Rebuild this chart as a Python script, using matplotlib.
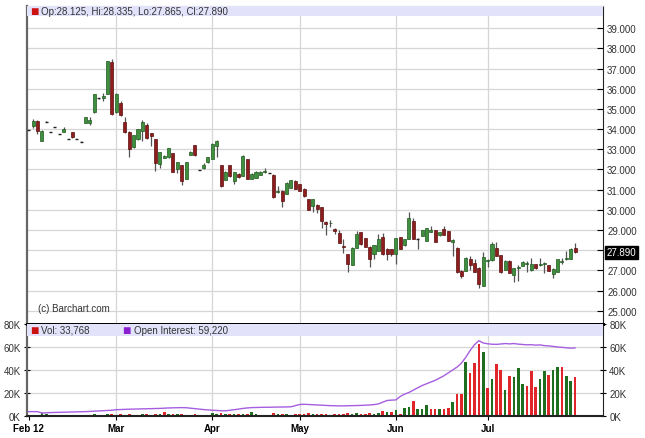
import matplotlib
matplotlib.use("Agg")
import matplotlib.pyplot as plt
import matplotlib.transforms as mtransforms
from matplotlib.patches import Rectangle
import pandas as pd

plt.rcParams['font.family'] = ['Liberation Sans', 'DejaVu Sans']

# trading days, Feb 1 2012 .. Jul 31 2012 (US exchange holidays removed)
holidays = ["2012-02-20", "2012-04-06", "2012-05-28", "2012-07-04"]
dates = [d for d in pd.bdate_range("2012-02-01", "2012-07-31") if d.strftime("%Y-%m-%d") not in holidays]

opens = [33.95, 34.14, 34.42, 33.43, 34.37, 33.87, 34.09, 33.76, 33.86, 33.51,
         33.84, 33.50, 33.38, 34.30, 34.30, 34.84, 35.53, 35.55, 35.74, 37.31,
         34.84, 35.28, 34.37, 33.87, 33.10, 33.50, 33.92, 34.19, 33.80, 33.50,
         32.27, 32.58, 32.60, 32.80, 32.03, 32.20, 31.53, 32.72, 33.20, 31.98,
         32.06, 32.36, 32.52, 33.15, 32.22, 31.50, 32.22, 31.44, 31.78, 31.69,
         32.52, 31.53, 31.60, 31.72, 31.85, 31.83, 31.73, 30.90, 30.94, 30.78,
         31.10, 31.44, 31.28, 31.05, 30.53, 30.17, 30.24, 30.12, 29.38, 29.33,
         29.05, 28.85, 28.22, 27.80, 27.27, 28.13, 28.88, 28.60, 28.18, 27.82,
         27.97, 28.63, 28.08, 28.05, 27.80, 28.63, 28.25, 28.55, 29.46, 28.57,
         28.70, 28.47, 28.92, 29.00, 28.73, 29.03, 28.95, 28.40, 28.13, 26.98,
         26.98, 27.58, 27.35, 27.14, 26.24, 27.48, 27.50, 28.13, 27.75, 27.04,
         27.48, 26.77, 27.13, 27.23, 27.33, 27.00, 27.30, 27.28, 27.30, 27.25,
         26.80, 26.92, 27.43, 27.58, 27.58, 28.125]
highs = [33.97, 34.50, 34.45, 33.95, 34.38, 33.88, 34.10, 33.77, 34.08, 33.52,
         33.86, 33.51, 33.39, 34.60, 34.60, 35.76, 35.55, 35.80, 37.37, 37.48,
         35.78, 35.40, 34.60, 33.90, 33.72, 34.02, 34.45, 34.30, 33.82, 33.52,
         32.87, 32.70, 33.07, 32.82, 32.37, 32.22, 32.39, 32.90, 33.22, 31.99,
         32.30, 32.64, 33.30, 33.45, 32.24, 31.91, 32.24, 31.88, 31.80, 32.70,
         32.54, 31.80, 31.90, 31.90, 32.05, 31.84, 31.75, 31.20, 30.96, 31.37,
         31.50, 31.46, 31.30, 31.07, 30.55, 30.55, 30.30, 30.14, 29.45, 29.50,
         29.10, 29.00, 28.54, 27.82, 28.15, 28.95, 28.90, 28.62, 28.20, 28.27,
         28.80, 28.83, 28.10, 28.07, 28.60, 28.65, 28.57, 29.90, 29.60, 28.60,
         29.00, 29.10, 29.20, 29.02, 28.90, 29.20, 28.97, 28.55, 28.15, 27.00,
         27.65, 27.70, 27.55, 27.16, 27.90, 27.55, 28.41, 28.40, 27.77, 27.50,
         27.50, 27.12, 27.25, 27.44, 27.45, 27.60, 27.32, 27.60, 27.40, 27.27,
         27.10, 27.57, 27.60, 27.95, 28.10, 28.335]
lows = [33.93, 34.05, 33.76, 33.40, 34.36, 33.86, 34.08, 33.75, 33.84, 33.50,
        33.58, 33.49, 33.37, 34.28, 34.20, 34.82, 35.51, 35.40, 35.72, 34.70,
        34.82, 34.66, 33.82, 32.60, 33.08, 33.48, 33.43, 33.53, 33.15, 31.94,
        32.05, 32.56, 32.58, 31.87, 31.80, 31.23, 31.51, 32.70, 32.68, 31.97,
        32.00, 32.34, 32.50, 32.60, 31.15, 31.48, 31.64, 31.30, 31.59, 31.67,
        31.51, 31.51, 31.58, 31.70, 31.80, 31.82, 30.60, 30.84, 30.15, 30.76,
        31.08, 31.03, 30.93, 30.64, 29.98, 29.90, 29.85, 29.10, 28.75, 29.15,
        28.80, 28.35, 27.88, 26.90, 27.25, 28.11, 28.28, 28.16, 27.15, 27.55,
        27.95, 27.78, 27.50, 27.70, 27.30, 28.04, 28.23, 28.53, 28.53, 28.05,
        28.68, 28.45, 28.90, 28.38, 28.71, 28.73, 28.45, 27.73, 26.88, 26.60,
        26.96, 27.00, 26.91, 26.10, 26.22, 27.15, 27.48, 27.71, 26.88, 27.02,
        26.85, 26.44, 26.45, 27.21, 26.90, 26.98, 27.08, 27.20, 26.85, 26.95,
        26.60, 26.90, 27.30, 27.50, 27.56, 27.865]
closes = [33.95, 34.42, 33.92, 33.92, 34.37, 33.87, 34.09, 33.76, 34.00, 33.51,
          33.60, 33.50, 33.38, 34.59, 34.45, 35.74, 35.53, 35.65, 37.35, 34.75,
          35.76, 34.68, 33.84, 33.01, 33.70, 34.00, 34.34, 33.55, 33.68, 32.30,
          32.85, 32.68, 33.05, 31.89, 32.35, 31.44, 32.37, 32.88, 32.70, 31.98,
          32.20, 32.62, 33.28, 33.43, 31.17, 31.89, 31.66, 31.86, 31.61, 32.68,
          31.53, 31.78, 31.88, 31.85, 31.90, 31.83, 30.62, 30.95, 30.45, 31.35,
          31.48, 31.05, 30.95, 30.66, 30.00, 30.53, 30.04, 29.46, 29.32, 29.36,
          28.95, 28.37, 28.18, 27.30, 28.13, 28.80, 28.30, 28.18, 27.55, 28.25,
          28.55, 27.80, 27.83, 27.80, 28.58, 28.06, 28.55, 29.58, 28.55, 28.57,
          28.98, 29.08, 29.02, 28.40, 28.88, 28.75, 28.47, 28.50, 26.90, 26.70,
          27.63, 27.27, 26.93, 26.32, 27.67, 27.52, 28.32, 27.73, 26.90, 27.48,
          26.87, 27.10, 27.17, 27.42, 27.37, 27.30, 27.10, 27.32, 27.34, 26.97,
          27.08, 27.55, 27.47, 27.62, 28.08, 27.89]

# volume and open interest, thousands of contracts
volume = [0.5, 0.8, 0.6, 2.5, 1.8, 0.3, 0.4, 0.3, 0.5, 0.2,
          0.6, 0.2, 0.3, 1.2, 1.0, 1.5, 0.4, 0.8, 1.8, 2.0,
          1.2, 1.5, 0.9, 1.8, 1.2, 1.0, 1.4, 1.6, 1.3, 2.0,
          1.8, 3.2, 1.5, 1.7, 1.4, 1.6, 1.3, 1.0, 1.5, 0.5,
          0.6, 1.2, 2.2, 1.8, 2.5, 1.6, 1.9, 1.7, 1.4, 1.8,
          2.0, 3.5, 1.5, 1.2, 0.8, 0.6, 2.2, 1.4, 1.9, 1.6,
          1.3, 1.5, 1.7, 1.9, 2.6, 1.8, 1.5, 2.0, 1.6, 1.2,
          1.4, 1.7, 1.9, 2.8, 1.6, 2.3, 1.9, 2.1, 2.6, 1.8,
          2.2, 4.4, 3.5, 3.5, 5.0, 2.0, 6.7, 7.9, 13.0, 5.8,
          5.8, 9.3, 5.8, 5.8, 5.8, 5.8, 6.7, 12.2, 19.0, 19.5,
          47.0, 37.0, 46.5, 62.6, 55.3, 24.2, 32.0, 45.0, 39.9, 22.4,
          34.9, 34.0, 41.6, 27.7, 26.2, 38.7, 25.3, 32.0, 39.3, 35.8,
          39.9, 42.8, 42.8, 34.9, 30.5, 33.768]
open_interest = [3.8, 3.8, 3.8, 2.6, 2.8, 3.0, 3.1, 3.2, 3.3, 3.4,
                 3.5, 3.6, 3.7, 3.8, 4.0, 4.2, 4.4, 4.6, 4.8, 5.0,
                 5.5, 5.6, 5.8, 5.9, 6.0, 6.1, 6.2, 6.3, 6.4, 6.5,
                 6.6, 6.8, 7.0, 7.1, 7.2, 7.3, 7.2, 6.8, 6.4, 6.0,
                 5.6, 5.3, 5.0, 4.8, 4.6, 4.5, 5.0, 5.5, 6.0, 6.6,
                 7.0, 7.3, 7.4, 7.5, 7.6, 7.6, 7.7, 7.8, 7.8, 7.9,
                 8.0, 9.0, 10.0, 10.2, 10.0, 9.8, 9.6, 9.4, 9.2, 9.0,
                 8.9, 8.8, 8.8, 8.9, 9.0, 9.1, 9.2, 9.4, 9.6, 9.9,
                 10.5, 12.0, 13.5, 13.8, 14.0, 17.0, 19.0, 20.5, 22.5, 24.5,
                 26.5, 28.0, 29.5, 31.0, 33.0, 35.0, 37.5, 40.0, 42.5, 46.0,
                 51.0, 57.0, 62.0, 65.5, 63.5, 62.8, 62.4, 62.3, 62.6, 63.0,
                 62.7, 63.0, 62.5, 62.2, 61.9, 62.0, 61.6, 61.8, 61.2, 61.0,
                 60.5, 60.0, 59.7, 59.3, 59.0, 59.22]

price_ticks = [25, 26, 27, 28, 29, 30, 31, 32, 33, 34, 35, 36, 37, 38, 39]
vol_ticks = [0, 20, 40, 60, 80]

W, H = 645, 439
fig = plt.figure(figsize=(W / 100, H / 100), dpi=100)
fig.patch.set_facecolor("white")

ax = fig.add_axes([27 / W, (H - 325) / H, 576 / W, 318 / H])
axv = fig.add_axes([27 / W, (H - 417) / H, 576 / W, 92 / H], sharex=ax)

n = len(closes)
idx = list(range(n))

# month boundaries
month_pos, month_lab = [], []
for i, d in enumerate(dates):
    if i == 0 or d.month != dates[i - 1].month:
        month_pos.append(i)
        month_lab.append(d.strftime("%b %y") if i == 0 else d.strftime("%b"))

grid_c = "#d6d6d6"
for a in (ax, axv):
    for p in month_pos[1:]:
        a.axvline(p, color=grid_c, lw=0.9, zorder=0)

for t in price_ticks:
    ax.axhline(t, color=grid_c, lw=0.9, zorder=0)
for t in vol_ticks[1:-1]:
    axv.axhline(t, color=grid_c, lw=0.9, zorder=0)

# candles
for i in idx:
    o, h, l, c = opens[i], highs[i], lows[i], closes[i]
    up = c > o
    fc = "#3f8f3f" if up else "#8e1d1d"
    ec = "#1f5a1f" if up else "#5c1010"
    ax.vlines(i, l, h, color="#555555", lw=0.9, zorder=2)
    body = abs(c - o)
    if body < 0.03:
        ax.hlines(o, i - 0.35, i + 0.35, color="#222222", lw=1.0, zorder=3)
    else:
        ax.bar(i, body, bottom=min(o, c), width=0.7, color=fc, edgecolor=ec, lw=0.5, zorder=3)

ax.set_xlim(-0.4, 131.4)
ax.set_ylim(24.34, 40.1)

# volume bars, coloured by close versus previous close
for i in idx:
    prev = closes[i - 1] if i > 0 else opens[0]
    col = "#1f6e1f" if closes[i] >= prev else "#e0262b"
    axv.bar(i, volume[i], width=0.6, color=col, zorder=2)
axv.plot(idx, open_interest, color="#a65ee0", lw=1.0, zorder=3)
axv.set_ylim(0, 80)

# header bands
ax.add_patch(Rectangle((0, 1 - 10 / 318), 1, 10 / 318, transform=ax.transAxes,
                       facecolor="#e2e2fa", edgecolor="none", zorder=4))
axv.add_patch(Rectangle((0, 1 - 12 / 92), 1, 12 / 92, transform=axv.transAxes,
                        facecolor="#e2e2fa", edgecolor="none", zorder=4))

hdr = "Op:{:.3f}, Hi:{:.3f}, Lo:{:.3f}, Cl:{:.3f}".format(opens[-1], highs[-1], lows[-1], closes[-1])
ax.text(0.005, 1 - 5 / 318, "\u25a0", color="#cc1111", fontsize=10, va="center",
        transform=ax.transAxes, zorder=5)
ax.text(0.024, 1 - 5 / 318, hdr, color="#333333", fontsize=7, va="center",
        transform=ax.transAxes, zorder=5)
axv.text(0.005, 1 - 6 / 92, "\u25a0", color="#cc1111", fontsize=10, va="center",
         transform=axv.transAxes, zorder=5)
axv.text(0.024, 1 - 6 / 92, "Vol: {:,}".format(round(volume[-1] * 1000)), color="#333333",
         fontsize=7, va="center", transform=axv.transAxes, zorder=5)
axv.text(0.165, 1 - 6 / 92, "\u25a0", color="#8a1fd0", fontsize=10, va="center",
         transform=axv.transAxes, zorder=5)
axv.text(0.185, 1 - 6 / 92, "Open Interest: {:,}".format(round(open_interest[-1] * 1000)),
         color="#333333", fontsize=7, va="center", transform=axv.transAxes, zorder=5)

ax.text(0.019, 0.04, "(c) Barchart.com", fontsize=7, color="#333333", transform=ax.transAxes)

# axes styling
ax.yaxis.tick_right()
ax.set_yticks(price_ticks)
ax.set_yticklabels(["{:.3f}".format(t) for t in price_ticks])
ax.tick_params(axis="y", direction="in", length=4, width=0.8, labelsize=7,
               labelcolor="#333333", pad=3)
ax.tick_params(axis="x", bottom=False, labelbottom=False)

trans = mtransforms.blended_transform_factory(ax.transAxes, ax.transData)
ax.text(1.006, closes[-1], "{:.3f}".format(closes[-1]), transform=trans, fontsize=7,
        color="white", va="center", ha="left",
        bbox=dict(boxstyle="square,pad=0.15", fc="black", ec="black"))

axv.set_yticks(vol_ticks)
axv.set_yticklabels(["{}K".format(t) for t in vol_ticks])
axv.tick_params(axis="y", which="both", left=True, right=True, labelleft=True, labelright=True,
                direction="inout", length=5, width=0.8, labelsize=7, labelcolor="#333333", pad=2)
axv.set_xticks(month_pos)
axv.set_xticklabels(month_lab, fontweight="bold")
axv.tick_params(axis="x", direction="out", length=3, labelsize=7, pad=2)

for s in ax.spines.values():
    s.set_color("#222222")
    s.set_linewidth(0.8)
ax.spines["left"].set_color("#666666")
ax.spines["left"].set_linewidth(1.6)
ax.spines["top"].set_color("#999999")
ax.spines["bottom"].set_linewidth(2.0)
ax.spines["bottom"].set_color("black")
for s in axv.spines.values():
    s.set_color("#222222")
    s.set_linewidth(0.8)
axv.spines["left"].set_color("#666666")
axv.spines["left"].set_linewidth(1.6)
axv.spines["top"].set_linewidth(2.0)
axv.spines["top"].set_color("black")
axv.spines["bottom"].set_linewidth(1.5)

fig.savefig("out.png", dpi=100)
